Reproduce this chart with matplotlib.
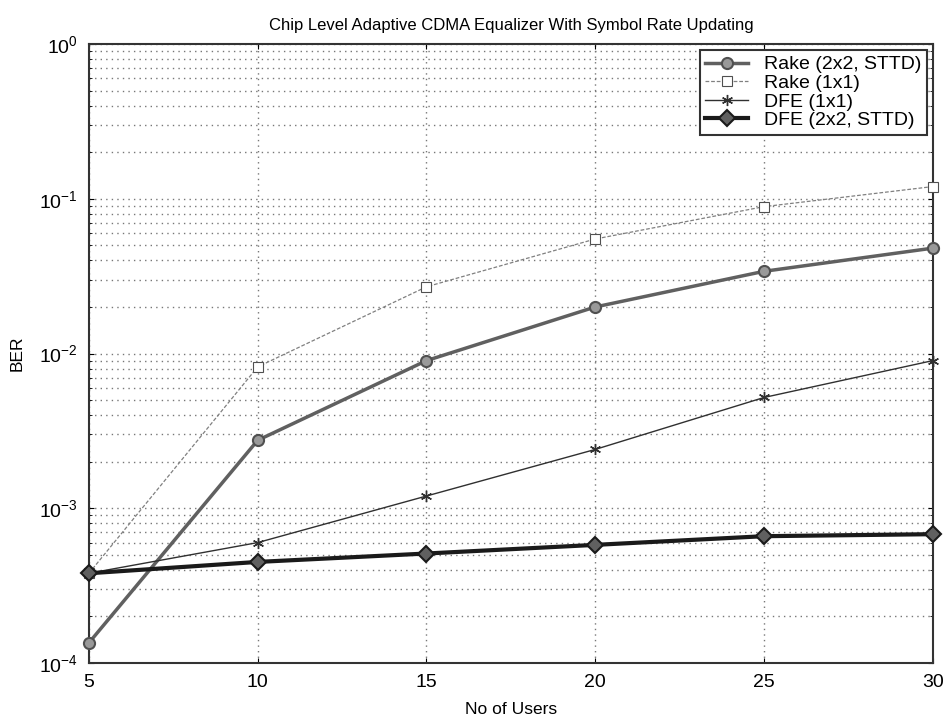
import matplotlib.pyplot as plt
import numpy as np

users = [5, 10, 15, 20, 25, 30]
rake_2x2 = [1.35e-4, 2.75e-3, 9.0e-3, 2.0e-2, 3.4e-2, 4.8e-2]
rake_1x1 = [3.8e-4, 8.2e-3, 2.7e-2, 5.5e-2, 8.9e-2, 1.2e-1]
dfe_1x1 = [3.8e-4, 6.0e-4, 1.2e-3, 2.4e-3, 5.2e-3, 9.0e-3]
dfe_2x2 = [3.8e-4, 4.5e-4, 5.1e-4, 5.8e-4, 6.6e-4, 6.8e-4]

plt.rcParams['font.family'] = ['Liberation Sans', 'DejaVu Sans']

fig = plt.figure(figsize=(9.46, 7.23), dpi=100)
ax = fig.add_axes([0.094, 0.083, 0.892, 0.856])

ax.semilogy(users, rake_2x2, color='#606060', lw=2.5, marker='o', ms=8,
            mfc='#999999', mec='#505050', mew=1.5, label='Rake (2x2, STTD)', clip_on=False, zorder=3)
ax.semilogy(users, rake_1x1, color='#808080', lw=0.9, ls=(0, (3, 1.5)), marker='s', ms=7,
            mfc='white', mec='#505050', mew=0.8, label='Rake (1x1)', clip_on=False, zorder=3)
ax.semilogy(users, dfe_1x1, color='#303030', lw=1.0, marker=(6, 2, 0), ms=8,
            mfc='#303030', mec='#303030', mew=1.0, label='DFE (1x1)', clip_on=False, zorder=3)
ax.semilogy(users, dfe_2x2, color='#1a1a1a', lw=3, marker='D', ms=8,
            mfc='#606060', mec='#1a1a1a', mew=1.5, label='DFE (2x2, STTD)', clip_on=False, zorder=3)

ax.set_xlim(5, 30)
ax.set_ylim(1e-4, 1)
ax.set_xticks(users)
ax.grid(True, which='major', ls=(0, (1, 3)), color='#777777', lw=1.0)
ax.grid(True, which='minor', ls=(0, (1, 3)), color='#777777', lw=1.0)
ax.tick_params(labelsize=14, direction='in', which='both', top=True, right=True, pad=8)
for s in ax.spines.values():
    s.set_linewidth(1.5)
    s.set_color('#333333')

ax.set_title('Chip Level Adaptive CDMA Equalizer With Symbol Rate Updating', fontsize=12, pad=10)
ax.set_xlabel('No of Users', fontsize=12.5, labelpad=8)
ax.set_ylabel('BER', fontsize=12.5, labelpad=10)

leg = ax.legend(loc='upper right', fontsize=14, fancybox=False, edgecolor='#333333',
                framealpha=1, handlelength=2.2, borderpad=0.3, labelspacing=0.05,
                borderaxespad=0.3)
leg.get_frame().set_linewidth(1.5)

fig.savefig('out.png', dpi=100)
